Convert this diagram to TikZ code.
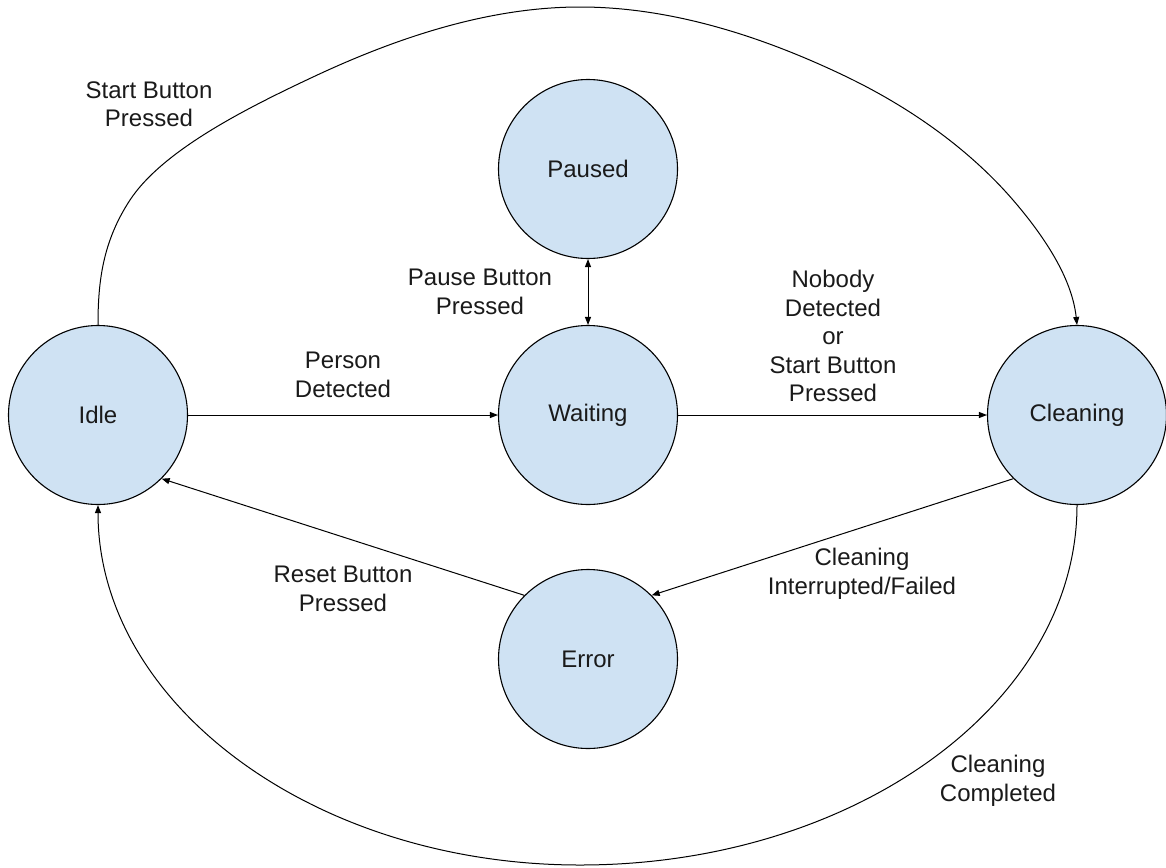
\documentclass[tikz,border=0pt]{standalone}
\usepackage{fontspec}
\setmainfont{Liberation Sans}
\usetikzlibrary{arrows.meta}
\definecolor{stfill}{HTML}{CFE2F3}
\definecolor{txt}{HTML}{1A1A1A}
\tikzset{
  state/.style={circle, draw=black, line width=0.55pt, fill=stfill, minimum size=89.5pt, inner sep=0pt, font=\fontsize{12}{14.25}\selectfont, text=txt},
  lbl/.style={align=center, font=\fontsize{12}{14.25}\selectfont, text=txt, inner sep=0pt},
  conn/.style={draw=black, line width=0.5pt, -{Triangle[length=4pt,width=3pt]}},
  biconn/.style={draw=black, line width=0.5pt, {Triangle[length=4pt,width=3pt]}-{Triangle[length=4pt,width=3pt]}}
}
\begin{document}
\begin{tikzpicture}[x=0.5pt,y=-0.5pt]
\useasboundingbox (0,0) rectangle (1166,867);
\node[state] (idle) at (98,415) {Idle};
\node[state] (waiting) at (588,415) {Waiting};
\node[state] (cleaning) at (1077,415) {Cleaning};
\node[state] (paused) at (588,169) {Paused};
\node[state] (error) at (588,659) {Error};

\draw[conn] (idle) -- (waiting);
\draw[conn] (waiting) -- (cleaning);
\draw[biconn] (paused.south) -- (waiting.north);
\draw[conn] (cleaning.225) -- (error.45);
\draw[conn] (error.135) -- (idle.-45);

% Start Button Pressed: Idle -> Cleaning (top arc)
\draw[conn] (idle.north)
  .. controls (98,282) and (102.5,242) .. (130,200)
  .. controls (163,150) and (247,108) .. (313,77)
  .. controls (396,38) and (488,7) .. (580,7)
  .. controls (672,7) and (764,37) .. (847,77)
  .. controls (909,107) and (968,148) .. (1013,200)
  .. controls (1044,236) and (1072,278) .. (cleaning.north);

% Cleaning Completed: Cleaning -> Idle (bottom arc)
\draw[conn] (cleaning.south)
  .. controls (1077,704) and (854,865) .. (580,865)
  .. controls (314,865) and (98,704) .. (idle.south);

\node[lbl] (l1) at (149,104) {Start Button\\Pressed};
\node[lbl] (l2) at (343,375) {Person\\Detected};
\node[lbl] (l3) at (480,292) {Pause Button\\Pressed};
\node[lbl] (l4) at (833,336) {Nobody\\Detected\\or\\Start Button\\Pressed};
\node[lbl] (l5) at (343,589) {Reset Button\\Pressed};
\node[lbl] (l6) at (862,574) {Cleaning\\Interrupted/Failed};
\node[lbl] (l7) at (998,781) {Cleaning\\Completed};
\end{tikzpicture}
\end{document}
